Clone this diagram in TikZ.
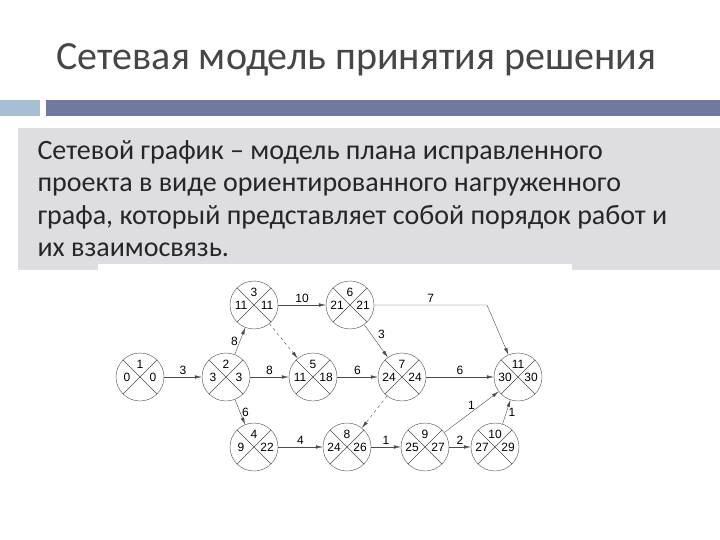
\documentclass[tikz,border=0pt]{standalone}
\usepackage{fontspec}
\setmainfont{Carlito}
\newfontfamily\plainsans{Liberation Sans}
\usetikzlibrary{arrows.meta}
\definecolor{titlegray}{RGB}{70,70,70}
\definecolor{panelgray}{RGB}{221,221,226}
\definecolor{barblue}{RGB}{112,122,160}
\definecolor{barlight}{RGB}{165,190,210}
\tikzset{
  event/.style={circle,draw=black!70,minimum size=48pt,inner sep=0pt},
  work/.style={-{Latex[length=7pt,width=3.5pt]},draw=black!70},
  dummy/.style={work,dashed},
  wlabel/.style={font=\plainsans\fontsize{12}{12}\selectfont,inner sep=2pt}
}
% event node: name, position, number, early, late
\newcommand{\eventnode}[5]{%
  \node[event] (#1) at (#2) {};
  \draw[black!70] ([shift={(-17pt,17pt)}]#1.center) -- ([shift={(17pt,-17pt)}]#1.center);
  \draw[black!70] ([shift={(17pt,17pt)}]#1.center) -- ([shift={(-17pt,-17pt)}]#1.center);
  \node[wlabel] at ([yshift=13pt]#1.center) {#3};
  \node[wlabel] at ([xshift=-13pt]#1.center) {#4};
  \node[wlabel] at ([xshift=13pt]#1.center) {#5};
}
\begin{document}
\begin{tikzpicture}[x=1pt,y=-1pt]
\useasboundingbox (0,0) rectangle (720,540);
\fill[white] (0,0) rectangle (720,540);
\node[anchor=west,text=titlegray,font=\fontsize{40}{40}\selectfont] (title) at (53,60) {Сетевая модель принятия решения};
\fill[barlight] (0,100) rectangle (40,116);
\fill[barblue] (46,100) rectangle (720,116);
\fill[panelgray] (18,128) rectangle (720,270);
\node[anchor=north west,align=left,text=black!85,font=\fontsize{28}{32.5}\selectfont] (body) at (34,137)
  {Сетевой график – модель плана исправленного\\проекта в виде ориентированного нагруженного\\графа, который представляет собой порядок работ и\\их взаимосвязь.};
\fill[white] (98,264) rectangle (572,540);
\eventnode{e1}{140,377}{1}{0}{0}
\eventnode{e2}{226,377}{2}{3}{3}
\eventnode{e3}{254,305}{3}{11}{11}
\eventnode{e4}{254,447}{4}{9}{22}
\eventnode{e5}{313,377}{5}{11}{18}
\eventnode{e6}{350,305}{6}{21}{21}
\eventnode{e7}{402,377}{7}{24}{24}
\eventnode{e8}{347,447}{8}{24}{26}
\eventnode{e9}{425,447}{9}{25}{27}
\eventnode{e10}{495,447}{10}{27}{29}
\eventnode{e11}{518,377}{11}{30}{30}
\coordinate (bend) at (487,305);
\draw[work] (e1) -- node[wlabel,above] {3} (e2);
\draw[work] (e2) -- node[wlabel,left] {8} (e3);
\draw[work] (e2) -- node[wlabel,above] {8} (e5);
\draw[work] (e2) -- node[wlabel,right] {6} (e4);
\draw[work] (e3) -- node[wlabel,above] {10} (e6);
\draw[dummy] (e3) -- (e5);
\draw[work] (e6.east) -- node[wlabel,above] {7} (bend) -- (e11);
\draw[work] (e6) -- node[wlabel,above right] {3} (e7);
\draw[work] (e5) -- node[wlabel,above] {6} (e7);
\draw[work] (e7) -- node[wlabel,above] {6} (e11);
\draw[dummy] (e7) -- (e8);
\draw[work] (e4) -- node[wlabel,above] {4} (e8);
\draw[work] (e8) -- node[wlabel,above] {1} (e9);
\draw[work] (e9) -- node[wlabel,above] {2} (e10);
\draw[work] (e9) -- node[wlabel,above] {1} (e11);
\draw[work] (e10) -- node[wlabel,right] {1} (e11);
\end{tikzpicture}
\end{document}
